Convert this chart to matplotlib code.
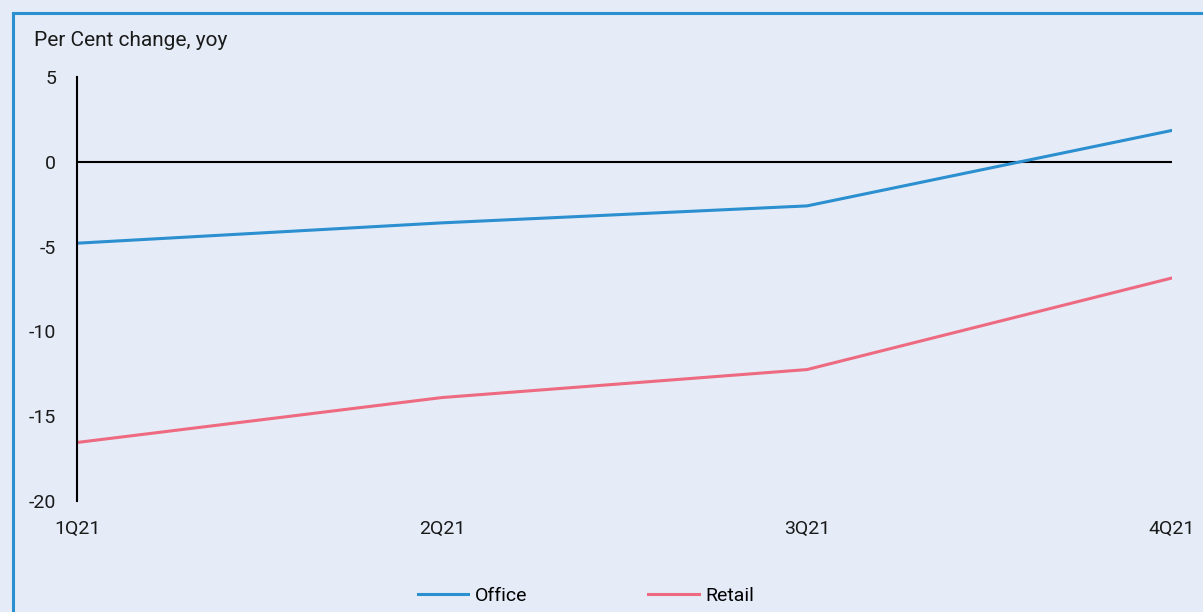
import matplotlib
matplotlib.use('Agg')
import matplotlib.pyplot as plt
from matplotlib.patches import Rectangle

quarters = ['1Q21', '2Q21', '3Q21', '4Q21']
office = [-4.8, -3.6, -2.6, 1.85]
retail = [-16.55, -13.9, -12.25, -6.85]
yticks = [5, 0, -5, -10, -15, -20]

bg = '#e5ecf7'
col_office = '#2b8fd0'
col_retail = '#ee6a80'
txt = '#1a1a1a'
fs = 14

plt.rcParams['font.family'] = ['Roboto', 'DejaVu Sans']

fig = plt.figure(figsize=(12.03, 6.12), dpi=100, facecolor=bg)
ax = fig.add_axes([77 / 1203, 1 - 501 / 612, (1172 - 77) / 1203, (501 - 77) / 612])
ax.set_facecolor(bg)

# outer frame
fig.patches.append(Rectangle((13 / 1203, -0.05), 1.2, 1 - 13 / 612 + 0.05,
                             transform=fig.transFigure, fill=False,
                             edgecolor=col_office, linewidth=2.2))

x = list(range(len(quarters)))
ax.plot(x, office, color=col_office, linewidth=2.2, label='Office')
ax.plot(x, retail, color=col_retail, linewidth=2.2, label='Retail')
ax.axhline(0, color='black', linewidth=1.5, zorder=1)

ax.set_xlim(0, len(quarters) - 1)
ax.set_ylim(-20, 5)
ax.set_xticks(x)
ax.set_xticklabels(quarters, fontsize=fs, color=txt)
ax.set_yticks(yticks)
ax.set_yticklabels([str(v) for v in yticks], fontsize=fs, color=txt)
ax.tick_params(axis='both', length=0)
ax.tick_params(axis='y', pad=15)
ax.tick_params(axis='x', pad=14)

for s in ['top', 'right', 'bottom']:
    ax.spines[s].set_visible(False)
ax.spines['left'].set_color('black')
ax.spines['left'].set_linewidth(1.5)

fig.text(34 / 1203, 1 - 41 / 612, 'Per Cent change, yoy', fontsize=15,
         color=txt, va='center', ha='left')

fig.legend(loc='center', bbox_to_anchor=(0.487, 1 - 596 / 612), ncol=2,
           frameon=False, fontsize=fs, handlelength=2.6, handletextpad=0.35,
           columnspacing=6.2)

fig.savefig('out.png', dpi=100, facecolor=bg)
